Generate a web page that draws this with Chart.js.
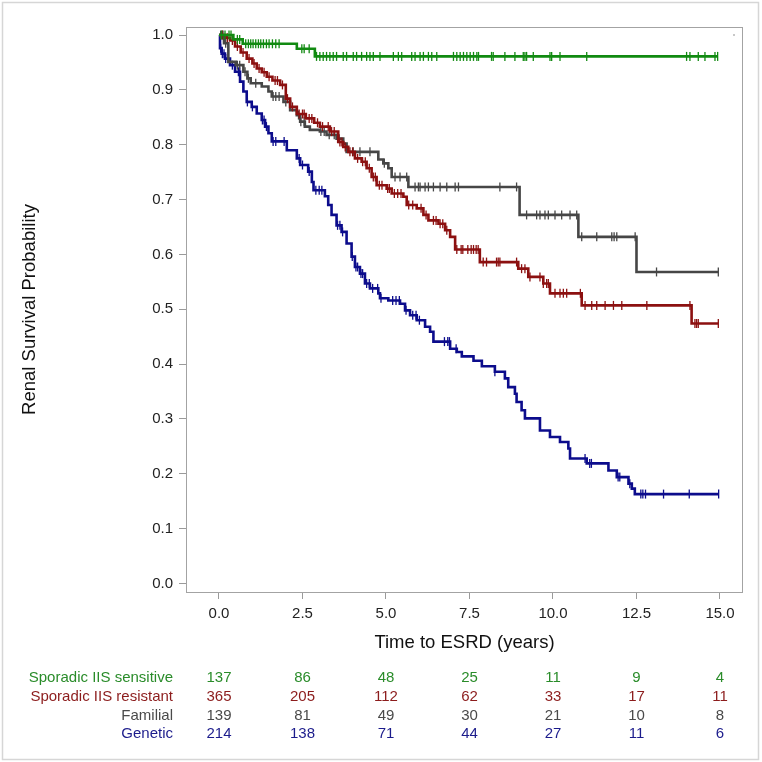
<!DOCTYPE html>
<html><head><meta charset="utf-8">
<script src="https://cdn.jsdelivr.net/npm/chart.js@4/dist/chart.umd.min.js"></script>
<style>html,body{margin:0;padding:0;background:#fff}canvas{display:block}</style>
</head><body>
<canvas id="c" width="762" height="762"></canvas>
<script>
// ---- data ----
const groupNames = ['Sporadic IIS sensitive', 'Sporadic IIS resistant', 'Familial', 'Genetic'];

const sensTimes = [0, 0.43, 0.71, 2.33, 2.87];
const sensSurv  = [1.0, 0.992, 0.984, 0.975, 0.961];
const sensCensor = [0.08,0.18,0.3,0.36,0.55,0.62,0.8,0.88,0.95,1.02,1.1,1.18,1.25,1.33,1.42,1.5,1.6,1.7,1.8,
  2.48,2.55,2.7,2.92,3.02,3.12,3.22,3.32,3.42,3.52,3.72,3.82,4.02,4.12,4.27,4.42,4.52,4.62,4.82,5.22,5.37,5.47,
  5.77,5.87,6.02,6.12,6.27,6.37,6.52,7.02,7.12,7.22,7.32,7.42,7.52,7.62,7.72,7.77,8.16,8.21,8.56,8.86,9.11,9.16,
  9.21,9.41,9.91,9.96,10.21,11.01,14.0,14.1,14.35,14.55,14.85,14.93];

const resTimes = [0,0.2,0.33,0.48,0.65,0.83,1.0,1.13,1.28,1.43,1.6,1.83,2.0,2.13,2.33,2.6,2.85,3.02,3.32,3.57,3.72,3.87,
  4.07,4.27,4.42,4.57,4.72,5.02,5.17,5.52,5.62,5.92,6.12,6.27,6.57,6.77,6.92,7.07,7.81,8.96,9.26,9.71,9.91,10.86,14.15];
const resSurv = [1.0,0.995,0.990,0.979,0.968,0.957,0.948,0.939,0.932,0.924,0.917,0.909,0.884,0.869,0.856,0.848,0.840,
  0.833,0.824,0.805,0.796,0.787,0.775,0.769,0.757,0.741,0.726,0.720,0.711,0.705,0.690,0.684,0.672,0.662,0.656,0.644,
  0.632,0.609,0.586,0.574,0.559,0.547,0.529,0.507,0.474];
const resCensor = [0.1,0.25,0.4,0.55,0.72,0.9,1.05,1.2,1.35,1.5,1.68,1.75,1.9,2.05,2.2,2.4,2.5,2.55,2.7,2.78,2.95,3.1,
  3.27,3.37,3.45,3.62,3.68,3.78,3.92,4.0,4.15,4.3,4.38,4.5,4.62,4.68,4.8,4.88,5.05,5.1,5.25,5.35,5.45,5.68,5.8,6.05,
  6.2,6.42,6.5,6.62,6.7,6.82,7.12,7.25,7.3,7.45,7.55,7.62,7.7,7.76,7.91,8.01,8.31,8.36,8.41,8.91,9.06,9.16,9.31,9.61,
  9.71,9.81,9.86,10.06,10.21,10.31,10.41,10.82,10.96,11.16,11.31,11.56,11.81,12.06,12.81,14.1,14.25,14.3,14.35,14.95];

const famTimes = [0,0.15,0.28,0.5,0.73,0.85,0.95,1.28,1.48,1.58,1.93,2.13,2.33,2.43,2.57,2.72,3.02,3.22,3.52,3.72,3.82,
  4.77,4.92,5.07,5.17,5.67,9.0,10.76,12.5];
const famSurv = [1.0,0.985,0.951,0.945,0.933,0.921,0.912,0.906,0.897,0.888,0.878,0.863,0.854,0.842,0.833,0.827,0.824,
  0.818,0.811,0.802,0.787,0.773,0.766,0.757,0.741,0.723,0.672,0.632,0.568];
const famCensor = [0.05,0.12,0.2,0.55,0.62,0.78,0.88,1.1,1.62,1.7,1.8,2.0,2.38,2.45,2.55,3.05,3.15,3.3,3.45,3.6,4.02,
  4.22,4.52,4.95,5.27,5.42,5.62,5.87,5.97,6.02,6.17,6.27,6.42,6.62,6.82,7.07,7.17,8.41,8.91,9.21,9.51,9.61,9.76,9.86,
  10.06,10.26,10.51,10.71,10.86,11.31,11.76,11.83,11.91,12.46,13.1,14.95];

const genTimes = [0,0.03,0.08,0.18,0.33,0.48,0.63,0.73,0.83,0.98,1.13,1.28,1.38,1.48,1.58,2.03,2.33,2.43,2.67,2.78,2.83,
  3.17,3.27,3.37,3.52,3.67,3.82,3.97,4.07,4.22,4.37,4.52,4.77,4.82,5.07,5.42,5.57,5.72,5.92,6.17,6.32,6.42,6.92,7.12,
  7.27,7.62,7.87,8.26,8.56,8.66,8.86,8.91,9.06,9.16,9.61,9.91,10.21,10.46,10.51,11.01,11.66,11.91,12.26,12.36,12.45];
const genSurv = [1.0,0.976,0.966,0.957,0.945,0.933,0.915,0.897,0.878,0.869,0.857,0.845,0.833,0.821,0.806,0.790,0.775,
  0.763,0.751,0.732,0.717,0.706,0.690,0.672,0.653,0.641,0.620,0.596,0.577,0.565,0.547,0.538,0.529,0.520,0.516,0.510,
  0.498,0.489,0.480,0.468,0.459,0.441,0.428,0.422,0.414,0.406,0.396,0.386,0.374,0.358,0.346,0.331,0.316,0.301,0.279,
  0.267,0.258,0.246,0.228,0.219,0.206,0.194,0.182,0.173,0.163];
const genCensor = [0.05,0.1,0.15,0.2,0.4,0.58,0.62,0.85,1.0,1.3,1.35,1.42,1.62,1.7,1.95,2.4,2.5,2.7,2.9,3.0,3.08,3.55,
  3.62,3.7,3.99,4.1,4.15,4.25,4.3,4.42,4.5,4.6,4.75,4.85,5.2,5.3,5.4,5.6,5.8,5.9,6.0,6.75,6.85,6.9,7.1,8.26,10.96,
  11.1,11.15,11.95,12.0,12.3,12.63,12.69,12.77,13.31,14.08,14.96];

const riskTimes = [0, 2.5, 5, 7.5, 10, 12.5, 15];
const riskSens = [137, 86, 48, 25, 11, 9, 4];
const riskRes  = [365, 205, 112, 62, 33, 17, 11];
const riskFam  = [139, 81, 49, 30, 21, 10, 8];
const riskGen  = [214, 138, 71, 44, 27, 11, 6];

// ---- styles ----
const lineColors = ['#118a11', '#8c1010', '#464646', '#0c0c8c'];
const textColors = ['#2a8c2a', '#8c1c1c', '#4a4a4a', '#1c1c8c'];
const FONT = '"Liberation Sans", Arial, sans-serif';

function survAt(times, surv, t) {
  let v = surv[0];
  for (let i = 0; i < times.length; i++) { if (times[i] <= t) v = surv[i]; else break; }
  return v;
}
function stepData(times, surv, censor) {
  const d = times.map((t, i) => ({x: t, y: surv[i]}));
  const end = Math.max(censor[censor.length - 1], times[times.length - 1]);
  d.push({x: end, y: surv[surv.length - 1]});
  return d;
}
function censorData(times, surv, censor) {
  return censor.map(t => ({x: t, y: survAt(times, surv, t)}));
}

const groups = [
  [sensTimes, sensSurv, sensCensor],
  [resTimes, resSurv, resCensor],
  [famTimes, famSurv, famCensor],
  [genTimes, genSurv, genCensor]
];
const risks = [riskSens, riskRes, riskFam, riskGen];

const datasets = [];
groups.forEach((g, i) => {
  datasets.push({
    label: groupNames[i], data: stepData(g[0], g[1], g[2]),
    borderColor: lineColors[i], borderWidth: 2.6, stepped: true, pointRadius: 0, fill: false, order: 10 + i
  });
  datasets.push({
    label: groupNames[i] + ' censored', data: censorData(g[0], g[1], g[2]),
    showLine: false, pointStyle: 'line', rotation: 90, pointRadius: 4.5,
    borderColor: lineColors[i], pointBorderColor: lineColors[i], pointBorderWidth: 1.3, order: 10 + i
  });
});

const framePlugin = {
  id: 'frame',
  beforeDraw(chart) {
    const ctx = chart.ctx;
    ctx.save();
    ctx.fillStyle = '#fff';
    ctx.fillRect(0, 0, chart.width, chart.height);
    ctx.strokeStyle = '#d6d6d6';
    ctx.lineWidth = 1.5;
    ctx.strokeRect(2.5, 2.5, 756, 757);
    ctx.restore();
  },
  afterDraw(chart) {
    const ctx = chart.ctx, a = chart.chartArea, xs = chart.scales.x;
    ctx.save();
    ctx.strokeStyle = '#a3a3a3';
    ctx.lineWidth = 1;
    ctx.strokeRect(Math.round(a.left) + 0.5, Math.round(a.top) + 0.5, Math.round(a.right - a.left) - 1, Math.round(a.bottom - a.top));
    // tiny legend artifact dot
    ctx.fillStyle = '#c8c8c8';
    ctx.fillRect(733, 34, 2, 2);
    // number at risk table
    ctx.font = '15px ' + FONT;
    ctx.textBaseline = 'middle';
    const rowY = [678, 697, 716, 734];
    risks.forEach((arr, r) => {
      ctx.fillStyle = textColors[r];
      ctx.textAlign = 'right';
      ctx.fillText(groupNames[r], 173, rowY[r]);
      ctx.textAlign = 'center';
      arr.forEach((n, k) => ctx.fillText(String(n), xs.getPixelForValue(riskTimes[k]), rowY[r]));
    });
    ctx.restore();
  }
};

new Chart(document.getElementById('c'), {
  type: 'line',
  data: {datasets},
  options: {
    responsive: false, animation: false, devicePixelRatio: 1,
    layout: {padding: {left: 0, top: 27, right: 19, bottom: 102}},
    plugins: {legend: {display: false}, tooltip: {enabled: false}},
    scales: {
      x: {
        type: 'linear', min: -0.988, max: 15.689,
        afterFit(s) { s.height = 68; },
        ticks: {stepSize: 2.5, includeBounds: false, padding: 6, color: '#222', font: {size: 15, family: FONT},
          callback: v => Number(v).toFixed(1), maxRotation: 0, autoSkip: false},
        grid: {display: true, drawOnChartArea: false, drawTicks: true, tickLength: 7, color: '#9a9a9a'},
        border: {display: false},
        title: {display: true, text: 'Time to ESRD (years)', color: '#111', font: {size: 18.5, family: FONT},
          padding: {top: 0, bottom: 6}}
      },
      y: {
        type: 'linear', min: -0.0155, max: 1.0146,
        afterFit(s) { s.width = 186; },
        ticks: {stepSize: 0.1, includeBounds: false, padding: 6, color: '#222', font: {size: 15, family: FONT},
          callback: v => Number(v).toFixed(1), autoSkip: false},
        grid: {display: true, drawOnChartArea: false, drawTicks: true, tickLength: 7, color: '#9a9a9a'},
        border: {display: false},
        title: {display: true, text: 'Renal Survival Probability', color: '#111', font: {size: 18.5, family: FONT},
          padding: {top: 19, bottom: 0}}
      }
    }
  },
  plugins: [framePlugin]
});
</script>
</body></html>
